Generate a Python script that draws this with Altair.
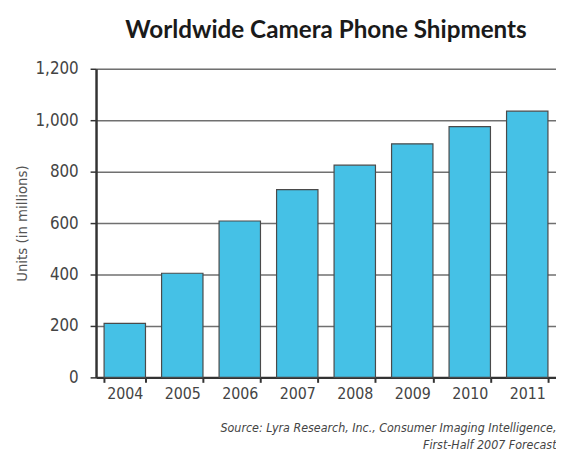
import altair as alt
import pandas as pd

years = ["2004", "2005", "2006", "2007", "2008", "2009", "2010", "2011"]
units = [210, 405, 608, 730, 825, 908, 975, 1035]
y_ticks = [0, 200, 400, 600, 800, 1000, 1200]
title_text = "Worldwide Camera Phone Shipments"
y_title = "Units (in millions)"
source_lines = ["Source: Lyra Research, Inc., Consumer Imaging Intelligence,",
                "First-Half 2007 Forecast"]

df = pd.DataFrame({"year": years, "units": units})

NARROW = "DejaVu Sans Condensed, Liberation Sans, sans-serif"

chart = alt.Chart(df).mark_bar(
    color="#45C1E6", stroke="#4a4a4a", strokeWidth=1.2
).encode(
    x=alt.X("year:N", sort=years,
            scale=alt.Scale(paddingInner=0.28, paddingOuter=0.14),
            axis=alt.Axis(title=source_lines, labelAngle=0, tickBand="extent",
                          domainColor="#333333", domainWidth=2.5,
                          tickColor="#333333", tickWidth=2, tickSize=5,
                          labelFont=NARROW, labelFontSize=16, labelColor="#444444",
                          labelPadding=3, grid=False,
                          titleFont=NARROW, titleFontSize=12.5, titleFontStyle="italic",
                          titleFontWeight="normal", titleColor="#444444",
                          titleAnchor="end", titleAlign="right", titlePadding=21,
                          titleLineHeight=17)),
    y=alt.Y("units:Q", scale=alt.Scale(domain=[0, 1200], nice=False),
            axis=alt.Axis(title=y_title, values=y_ticks, format=",d",
                          domainColor="#333333", domainWidth=2.5,
                          tickColor="#333333", tickWidth=1.5, tickSize=6,
                          gridColor="#707070", gridWidth=1.5,
                          labelFont=NARROW, labelFontSize=17, labelColor="#444444",
                          labelPadding=12,
                          titleFont=NARROW, titleFontSize=15, titleFontWeight="normal",
                          titleColor="#555555", titlePadding=6)),
).properties(
    width=465, height=312,
    title=alt.TitleParams(title_text, font="Lato", fontSize=24.5, fontWeight="bold",
                          color="#1a1a1a", anchor="middle", baseline="alphabetic",
                          offset=0, dy=2),
    autosize=alt.AutoSizeParams(type="none"),
    padding={"left": 89, "top": 59, "right": 0, "bottom": 73},
).configure_view(stroke=None).configure(background="white")

chart.save("out.html", embed_options={"renderer": "svg", "actions": False})
